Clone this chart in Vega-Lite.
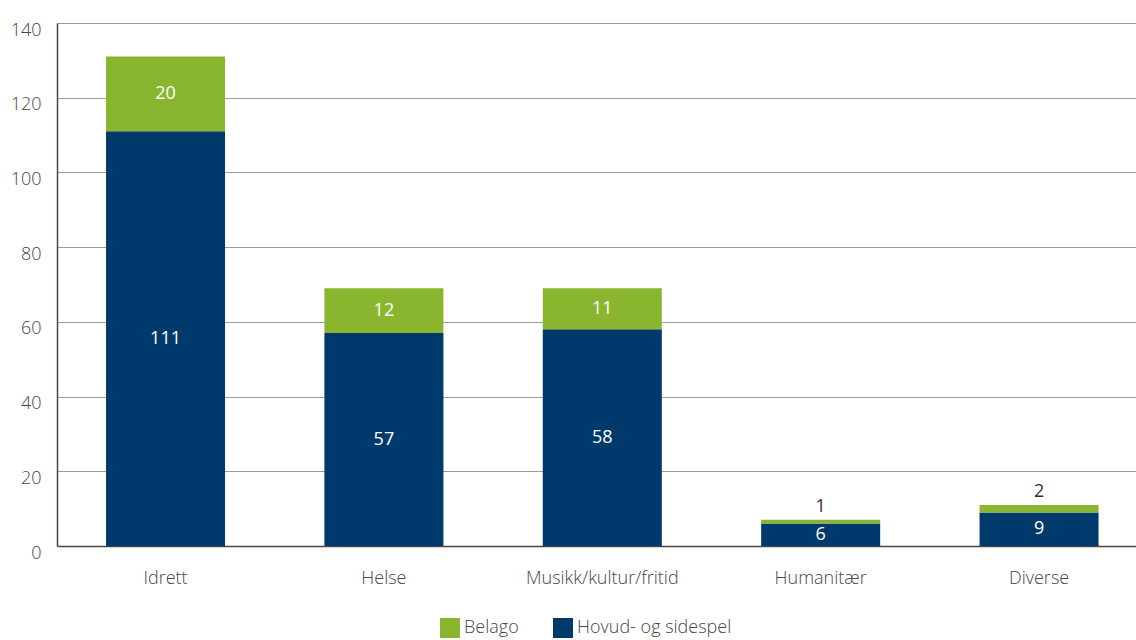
{
  "$schema": "https://vega.github.io/schema/vega-lite/v6.json",
  "width": 1079,
  "height": 523,
  "autosize": {"type": "none"},
  "padding": {"left": 57, "top": 23, "right": 0, "bottom": 94},
  "background": "white",
  "config": {
    "view": {"stroke": null},
    "font": "Open Sans",
    "axis": {"labelFont": "Open Sans", "labelFontSize": 18, "labelFontWeight": 300, "labelColor": "#4e4440", "titleFontSize": 0}
  },
  "data": {
    "values": [
      {"category": "Idrett", "type": "Hovud- og sidespel", "value": 111},
      {"category": "Idrett", "type": "Belago", "value": 20},
      {"category": "Helse", "type": "Hovud- og sidespel", "value": 57},
      {"category": "Helse", "type": "Belago", "value": 12},
      {"category": "Musikk/kultur/fritid", "type": "Hovud- og sidespel", "value": 58},
      {"category": "Musikk/kultur/fritid", "type": "Belago", "value": 11},
      {"category": "Humanitær", "type": "Hovud- og sidespel", "value": 6},
      {"category": "Humanitær", "type": "Belago", "value": 1},
      {"category": "Diverse", "type": "Hovud- og sidespel", "value": 9},
      {"category": "Diverse", "type": "Belago", "value": 2}
    ]
  },
  "transform": [
    {"stack": "value", "groupby": ["category"], "sort": [{"field": "type", "order": "descending"}], "as": ["y0", "y1"]}
  ],
  "encoding": {
    "x": {
      "field": "category", "type": "nominal", "sort": null,
      "scale": {"paddingInner": 0.455, "paddingOuter": 0.198, "align": 0.567},
      "axis": {"title": null, "labelAngle": 0, "ticks": false, "domainColor": "#4e4440", "domainWidth": 1.5, "labelPadding": 23}
    }
  },
  "layer": [
    {
      "mark": {"type": "bar"},
      "encoding": {
        "y": {
          "field": "y0", "type": "quantitative",
          "scale": {"domain": [0, 140]},
          "axis": {"title": null, "values": [0, 20, 40, 60, 80, 100, 120, 140], "ticks": false, "domainColor": "#4e4440", "domainWidth": 1.5, "gridColor": "#a09a95", "gridWidth": 1, "labelPadding": 16, "labelOffset": 7}
        },
        "y2": {"field": "y1"},
        "color": {
          "field": "type", "type": "nominal",
          "scale": {"domain": ["Belago", "Hovud- og sidespel"], "range": ["#8ab52f", "#003a6c"]},
          "legend": {"title": null, "orient": "none", "legendX": 383, "legendY": 595, "direction": "horizontal", "symbolType": "square", "symbolSize": 400, "symbolStrokeWidth": 0, "labelFontSize": 18, "labelFontWeight": 300, "labelFont": "Open Sans", "labelColor": "#4e4440", "columnPadding": 34}
        }
      }
    },
    {
      "transform": [
        {"filter": "datum.value >= 5"},
        {"fold": ["y0", "y1"], "as": ["edge", "pos"]},
        {"aggregate": [{"op": "mean", "field": "pos", "as": "mid"}], "groupby": ["category", "type", "value"]}
      ],
      "mark": {"type": "text", "color": "white", "fontSize": 18, "fontWeight": 400, "font": "Open Sans", "baseline": "middle"},
      "encoding": {
        "y": {"field": "mid", "type": "quantitative"},
        "text": {"field": "value", "type": "quantitative"}
      }
    },
    {
      "transform": [{"filter": "datum.value < 5"}],
      "mark": {"type": "text", "color": "#3a2f2b", "fontSize": 18, "fontWeight": 400, "font": "Open Sans", "baseline": "bottom", "dy": -4},
      "encoding": {
        "y": {"field": "y1", "type": "quantitative"},
        "text": {"field": "value", "type": "quantitative"}
      }
    }
  ]
}
